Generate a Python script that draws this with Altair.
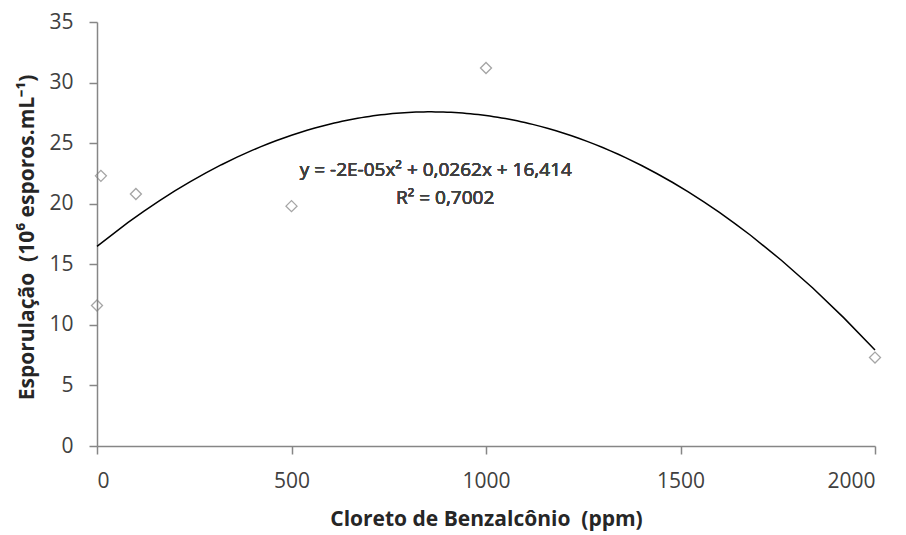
import altair as alt
import pandas as pd

# Data
dose = [0, 10, 100, 500, 1000, 2000]
esporulacao = [11.6, 22.3, 20.8, 19.8, 31.2, 7.3]
x_ticks = [0, 500, 1000, 1500, 2000]
y_ticks = [0, 5, 10, 15, 20, 25, 30, 35]
eq_line1 = "y = -2E-05x² + 0,0262x + 16,414"
eq_line2 = "R² = 0,7002"

df = pd.DataFrame({"dose": dose, "esp": esporulacao})

FONT = "Open Sans"

x_enc = alt.X(
    "dose:Q",
    scale=alt.Scale(domain=[0, 2000], nice=False),
    axis=alt.Axis(
        values=x_ticks,
        format="d",
        title="Cloreto de Benzalcônio \u00a0(ppm)",
        titleX=389,
        titleY=79,
        titleBaseline="alphabetic",
        titleAlign="center",
    ),
)
y_enc = alt.Y(
    "esp:Q",
    scale=alt.Scale(domain=[0, 35], nice=False),
    axis=alt.Axis(
        values=y_ticks,
        format="d",
        title="Esporulação \u00a0(10⁶ esporos.mL⁻¹)",
        titleAngle=270,
        titleX=-64,
        titleY=215,
        titleBaseline="alphabetic",
        titleAlign="center",
    ),
)

base = alt.Chart(df)

points = base.mark_point(
    shape="diamond", filled=False, size=121, color="#7f7f7f", strokeWidth=1.3
).encode(x=x_enc, y=y_enc)

curve = (
    base.transform_regression("dose", "esp", method="poly", order=2, extent=[0, 2000])
    .mark_line(color="#000000", strokeWidth=1.5)
    .encode(x="dose:Q", y="esp:Q")
)

eq1 = base.mark_text(
    font=FONT, fontSize=19, fontWeight="normal", color="#404040",
    align="center", baseline="alphabetic"
).encode(x=alt.datum(871), y=alt.datum(22.29), text=alt.value(eq_line1))

eq2 = base.mark_text(
    font=FONT, fontSize=19, fontWeight="normal", color="#404040",
    align="center", baseline="alphabetic"
).encode(x=alt.datum(895), y=alt.datum(19.95), text=alt.value(eq_line2))

chart = (
    alt.layer(curve, points, eq1, eq2)
    .properties(
        width=778,
        height=424,
        autosize="none",
        padding={"left": 89, "top": 14, "right": 20, "bottom": 88},
        background="white",
    )
    .configure_view(stroke=None)
    .configure_axis(
        grid=False,
        domainColor="#868686",
        domainWidth=1.5,
        tickColor="#868686",
        tickWidth=1.5,
        tickSize=8,
        labelFont=FONT,
        labelFontSize=21,
        labelColor="#404040",
        labelPadding=16,
        titleFont=FONT,
        titleFontSize=21,
        titleFontWeight="bold",
        titleColor="#262626",
    )
)

chart.save("out.html", embed_options={"renderer": "svg", "actions": False})
